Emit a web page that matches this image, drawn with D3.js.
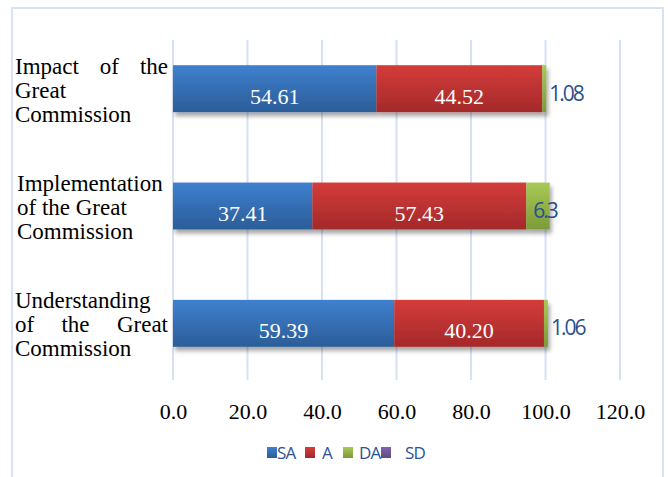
<!DOCTYPE html>
<html>
<head>
<meta charset="utf-8">
<script src="https://cdn.jsdelivr.net/npm/d3@7/dist/d3.min.js"></script>
<style>
    body { margin: 0; background: #fff; }
</style>
</head>
<body>
<div id="chart"></div>
<script>
// data
const categories = ["Impact of the Great Commission", "Implementation of the Great Commission", "Understanding of the Great Commission"];
const labelLines = [
    ["Impact of the", "Great", "Commission"],
    ["Implementation", "of the Great", "Commission"],
    ["Understanding", "of the Great", "Commission"]
];
const labelAlign = ["justify", "left", "justify"];
const seriesNames = ["SA", "A", "DA", "SD"];
const saValues = [54.61, 37.41, 59.39];
const aValues = [44.52, 57.43, 40.20];
const daValues = [1.08, 6.3, 1.06];
const sdValues = [0, 0, 0];
const xTicks = [0, 20, 40, 60, 80, 100, 120];

const SERIF = "'Liberation Serif', serif";

function init() {
    let w = 668;
    let h = 477;

    const colors = {
        SA: ["#3f80cf", "#2b5d98"],
        A: ["#d43c3a", "#a4292a"],
        DA: ["#a8c956", "#7d9a38"],
        SD: ["#8064a8", "#5f4a85"]
    };

    let svg = d3.select("#chart")
        .append("svg")
        .attr("width", w)
        .attr("height", h);

    let defs = svg.append("defs");
    seriesNames.forEach(function (s) {
        let g = defs.append("linearGradient")
            .attr("id", "grad" + s)
            .attr("x1", 0).attr("y1", 0).attr("x2", 0).attr("y2", 1);
        g.append("stop").attr("offset", "0%").attr("stop-color", colors[s][0]);
        g.append("stop").attr("offset", "100%").attr("stop-color", colors[s][1]);
    });
    let shadow = defs.append("filter").attr("id", "shadow")
        .attr("x", "-5%").attr("y", "-20%").attr("width", "115%").attr("height", "160%");
    shadow.append("feDropShadow")
        .attr("dx", 2).attr("dy", 4).attr("stdDeviation", 2)
        .attr("flood-color", "#000").attr("flood-opacity", 0.35);

    // outer frame
    svg.append("rect")
        .attr("x", 12).attr("y", 8)
        .attr("width", 651).attr("height", 490)
        .attr("fill", "none")
        .attr("stroke", "#d5e3f4")
        .attr("stroke-width", 2);

    let x = d3.scaleLinear().domain([0, 120]).range([173, 620]);
    let y = d3.scaleBand().domain(categories).range([30, 382])
        .paddingInner(0.6).paddingOuter(0.3);

    // grid
    svg.append("g")
        .selectAll("line")
        .data(xTicks)
        .enter()
        .append("line")
        .attr("x1", d => x(d)).attr("x2", d => x(d))
        .attr("y1", 40).attr("y2", 380)
        .attr("stroke", "#d6e2f3")
        .attr("stroke-width", 2);

    // x axis labels
    let xAxis = d3.axisBottom(x)
        .tickValues(xTicks)
        .tickFormat(d3.format(".1f"))
        .tickSize(0)
        .tickPadding(0);
    let axisG = svg.append("g")
        .attr("transform", "translate(0,400)")
        .call(xAxis);
    axisG.select(".domain").remove();
    axisG.selectAll("text")
        .attr("dy", null)
        .attr("y", 19)
        .attr("fill", "#000")
        .style("font-family", SERIF)
        .style("font-size", "22px");

    // stack
    let rows = categories.map(function (c, i) {
        return { cat: c, SA: saValues[i], A: aValues[i], DA: daValues[i], SD: sdValues[i] };
    });
    let stacked = d3.stack().keys(seriesNames)(rows);

    let barsG = svg.append("g").attr("filter", "url(#shadow)");
    stacked.forEach(function (layer) {
        barsG.selectAll(".bar" + layer.key)
            .data(layer)
            .enter()
            .append("rect")
            .attr("class", "bar" + layer.key)
            .attr("x", d => x(d[0]))
            .attr("y", d => y(d.data.cat))
            .attr("width", d => Math.max(0, x(d[1]) - x(d[0])))
            .attr("height", y.bandwidth())
            .attr("fill", "url(#grad" + layer.key + ")");
    });

    // data labels
    stacked.forEach(function (layer) {
        if (layer.key == "SA" || layer.key == "A") {
            svg.append("g").selectAll("text")
                .data(layer)
                .enter()
                .append("text")
                .attr("x", d => (x(d[0]) + x(d[1])) / 2)
                .attr("y", d => y(d.data.cat) + y.bandwidth() / 2 + 15)
                .attr("text-anchor", "middle")
                .attr("fill", "#fff")
                .style("font-family", SERIF)
                .style("font-size", "22px")
                .text(d => (d[1] - d[0]).toFixed(2));
        } else if (layer.key == "DA") {
            svg.append("g").selectAll("text")
                .data(layer)
                .enter()
                .append("text")
                .attr("x", d => x(d[0]) + 7)
                .attr("y", d => y(d.data.cat) + y.bandwidth() / 2 + 12)
                .attr("fill", "#2a4f8c")
                .style("font-family", "'Open Sans', sans-serif")
                .style("font-size", "21px")
                .style("letter-spacing", "-2px")
                .text((d, i) => daValues[i]);
        }
    });

    // category labels (serif, some lines justified)
    let labelX = 15;
    let labelW = 153;
    categories.forEach(function (c, i) {
        let cy = y(c) + y.bandwidth() / 2;
        let lines = labelLines[i];
        lines.forEach(function (line, j) {
            let baseY = cy + 9 + (j - 1) * 24;
            let words = line.split(" ");
            let justify = labelAlign[i] == "justify" && j < lines.length - 1 && words.length > 1;
            if (!justify) {
                svg.append("text")
                    .attr("x", labelX + (i == 1 ? 2 : 0))
                    .attr("y", baseY)
                    .style("font-family", SERIF)
                    .style("font-size", "23px")
                    .text(line);
            } else {
                let nodes = words.map(function (wd) {
                    return svg.append("text")
                        .attr("y", baseY)
                        .style("font-family", SERIF)
                        .style("font-size", "23px")
                        .text(wd);
                });
                let widths = nodes.map(n => n.node().getComputedTextLength());
                let gap = (labelW - d3.sum(widths)) / (words.length - 1);
                let cx = labelX;
                nodes.forEach(function (n, k) {
                    n.attr("x", cx);
                    cx += widths[k] + gap;
                });
            }
        });
    });

    // legend
    const legendX = [267, 305, 343, 381];
    const legendTextOff = [10, 17, 16, 24];
    let legend = svg.append("g");
    seriesNames.forEach(function (s, i) {
        legend.append("rect")
            .attr("x", legendX[i]).attr("y", 447)
            .attr("width", 10).attr("height", 11)
            .attr("fill", "url(#grad" + s + ")");
        legend.append("text")
            .attr("x", legendX[i] + legendTextOff[i])
            .attr("y", 459)
            .attr("fill", "#2c5393")
            .style("font-family", "'Open Sans', sans-serif")
            .style("font-size", "17px")
            .style("letter-spacing", "-0.8px")
            .text(s);
    });
}

window.onload = init;
</script>
</body>
</html>
